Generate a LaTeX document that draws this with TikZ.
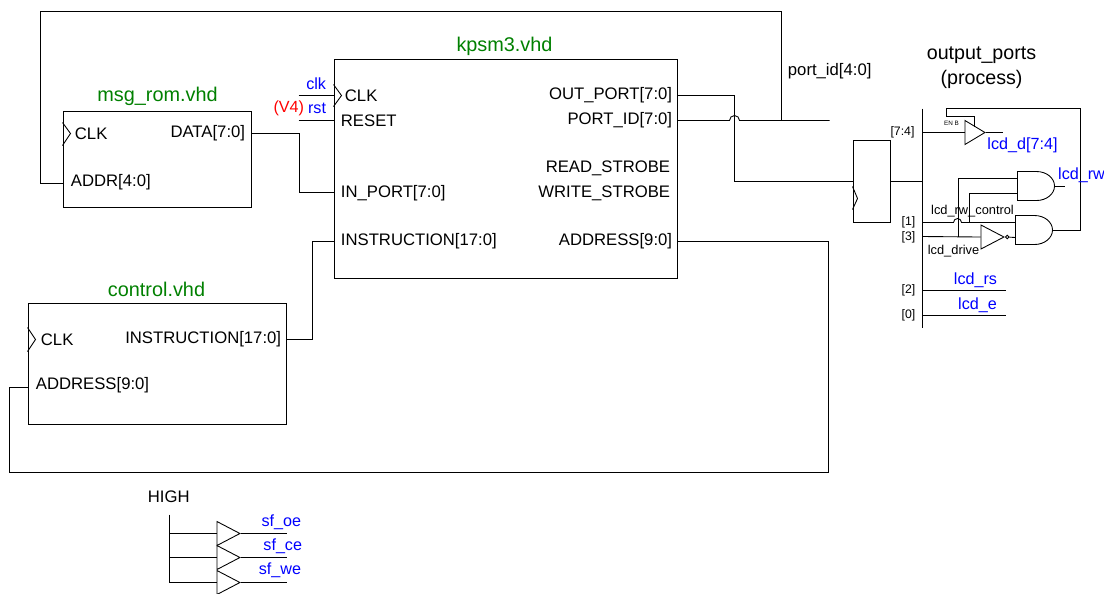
\documentclass[tikz,border=0pt]{standalone}
\usepackage{fontspec}
\setmainfont{Liberation Sans}
\definecolor{TitleGreen}{HTML}{008000}
\definecolor{SigBlue}{HTML}{0000FF}
\usetikzlibrary{shapes.geometric, positioning}

\begin{document}
\begin{tikzpicture}[
  x=0.02cm, y=-0.02cm,
  line width=0.5pt,
  block/.style={rectangle, draw, anchor=north west, inner sep=0pt},
  title/.style={font=\fontsize{11.3}{13}\selectfont, text=TitleGreen, inner sep=0pt},
  pinl/.style={font=\fontsize{9.5}{11}\selectfont, anchor=west, inner sep=0pt},
  pinr/.style={font=\fontsize{9.5}{11}\selectfont, anchor=east, inner sep=0pt},
  sig/.style={font=\fontsize{9.2}{11}\selectfont, text=SigBlue, inner sep=0pt},
  tiny/.style={font=\fontsize{7}{8}\selectfont, inner sep=0pt},
  buf/.style={isosceles triangle, isosceles triangle stretches, draw, anchor=lower side,
              minimum width=0.48cm, minimum height=0.46cm, inner sep=0pt},
  andgate/.pic={
    \draw (0,0) -- (19,0) arc[x radius=18, y radius=14.5, start angle=-90, end angle=90] -- (0,29) -- cycle;
    \coordinate (-in1) at (0,7);
    \coordinate (-in2) at (0,22);
    \coordinate (-out) at (37,14.5);
  }
]
  \useasboundingbox (0,0) rectangle (1104,593);
  \begin{scope}[shift={(0.5,0.5)}]

  % blocks
  \node[block, minimum width=6.88cm, minimum height=4.4cm] (kpsm) at (333,58) {};
  \node[block, minimum width=3.78cm, minimum height=1.94cm] (rom) at (62,110) {};
  \node[block, minimum width=5.18cm, minimum height=2.44cm] (ctrl) at (27,302) {};
  \node[block, minimum width=0.74cm, minimum height=1.66cm] (reg) at (852,139) {};

  \node[title] (kpsmname) at (504,46) {kpsm3.vhd};
  \node[title] (romname) at (157,96) {msg\_rom.vhd};
  \node[title] (ctrlname) at (156,289) {control.vhd};

  % clock notches
  \draw (kpsm.west |- 0,84) -- (341,95) -- (kpsm.west |- 0,106);
  \draw (rom.west |- 0,122) -- (70,133) -- (rom.west |- 0,145);
  \draw (ctrl.west |- 0,327) -- (35,339) -- (ctrl.west |- 0,351);
  \draw (reg.west |- 0,186) -- (857,198) -- (reg.west |- 0,209);

  % pin labels
  \node[pinl] (kclk) at (344,95) {CLK};
  \node[pinl] (krst) at (340,120) {RESET};
  \node[pinl] (kin) at (340,193) {IN\_PORT[7:0]};
  \node[pinl] (kins) at (340,241) {INSTRUCTION[17:0]};
  \node[pinr] (kout) at (672,95) {OUT\_PORT[7:0]};
  \node[pinr] (kid) at (672,120) {PORT\_ID[7:0]};
  \node[pinr] (kread) at (670,168) {READ\_STROBE};
  \node[pinr] (kwrite) at (670,193) {WRITE\_STROBE};
  \node[pinr] (kaddr) at (672,241) {ADDRESS[9:0]};
  \node[pinl] (rclk) at (74,133) {CLK};
  \node[pinr] (rdata) at (245,133) {DATA[7:0]};
  \node[pinl] (raddr) at (70,182) {ADDR[4:0]};
  \node[pinl] (cclk) at (40,339) {CLK};
  \node[pinr] (cins) at (281,339) {INSTRUCTION[17:0]};
  \node[pinl] (caddr) at (35,385) {ADDRESS[9:0]};

  \node[sig, anchor=east] (clklabel) at (326,83) {clk};
  \node[sig, anchor=east] (rstlabel) at (326,108) {rst};
  \node[sig, anchor=east, text=red] (v4label) at (304,108) {(V4)};
  \node[pinl] (idlabel) at (787,71) {port\_id[4:0]};
  \node[align=center, font=\fontsize{11.2}{14.2}\selectfont, inner sep=0pt] (portsname) at (981,67) {output\_ports\\(process)};

  % pin coordinates
  \coordinate (clkend) at (298,95);
  \coordinate (rstend) at (298,120);
  \coordinate (idend) at (829,120);
  \coordinate (outend) at (677,95);
  \coordinate (idstart) at (677,120);
  \coordinate (taptop) at (781,11);
  \coordinate (tap) at (781,120);
  \coordinate (hopl) at (729,120);
  \coordinate (romdata) at (251,133);
  \coordinate (kpsmin) at (333,192);
  \coordinate (romaddr) at (62,183);
  \coordinate (kpsmins) at (333,241);
  \coordinate (ctrlins) at (286,339);
  \coordinate (kpsmaddr) at (677,241);
  \coordinate (ctrladdr) at (27,387);
  \coordinate (regin) at (852,181);

  % kpsm wiring
  \draw (clkend) -- (kpsm.west |- clkend);
  \draw (rstend) -- (kpsm.west |- rstend);
  \draw (romdata) -- (299,133) -- (299,192) -- (kpsmin);
  \draw (kpsmins) -- (312,241) -- (312,339) -- (ctrlins);
  \draw (kpsmaddr) -- (828,241) -- (828,472) -- (9,472) -- (9,387) -- (ctrladdr);
  \draw (idstart) -- (hopl) arc[start angle=180, end angle=360, radius=5] -- (idend);
  \draw (tap) -- (taptop) -- (40,11) -- (40,183) -- (romaddr);
  \draw (outend) -- (734,95) -- (734,181) -- (regin);

  % output ports
  \coordinate (bustop) at (922,108);
  \coordinate (busbot) at (922,327);
  \draw (bustop) -- (busbot);
  \draw (reg.east |- regin) -- (bustop |- regin);

  \node[buf, minimum height=0.4cm] (lcdbuf) at (964,132) {};
  \coordinate (buftap) at (974,126);
  \coordinate (bufend) at (1002,132);
  \draw (bustop |- bufend) -- (lcdbuf.lower side);
  \draw (lcdbuf.apex) -- (bufend);
  \node[inner sep=0pt, font=\fontsize{3.6}{4}\selectfont] (enb) at (951,123) {EN B};

  \pic (andrw) at (1017,171) {andgate};
  \pic (anddrive) at (1015,215) {andgate};
  \node[buf] (inv) at (980,236.5) {};
  \node[circle, draw, inner sep=0pt, minimum size=0.07cm, right=0pt of inv.apex] (invdot) {};

  \coordinate (in1) at (922,222);
  \coordinate (in3) at (922,236);
  \draw (in1) -- (953,222) arc[start angle=180, end angle=360, radius=4] -- (anddrive-in1);
  \draw (in3) -- (inv.lower side);
  \draw (invdot) -- (anddrive-in2);
  \draw (958,236) -- (958,178) -- (andrw-in1);
  \draw (969,222) -- (969,193) -- (andrw-in2);
  \draw (andrw-out) -- (1064,185.5);
  \draw (anddrive-out) -- (1080,229.5) -- (1080,108) -- (946,108) -- (946,116) -- (974,116) -- (buftap);

  \coordinate (rsend) at (1005,290);
  \coordinate (eend) at (1005,315);
  \draw (bustop |- rsend) -- (rsend);
  \draw (bustop |- eend) -- (eend);

  \node[tiny] (tag74) at (902,132) {[7:4]};
  \node[tiny] (tag1) at (908,222) {[1]};
  \node[tiny] (tag3) at (908,237) {[3]};
  \node[tiny] (tag2) at (908,290) {[2]};
  \node[tiny] (tag0) at (908,315) {[0]};
  \node[tiny, font=\fontsize{7.3}{8}\selectfont] (rwctl) at (972,211) {lcd\_rw\_control};
  \node[tiny, font=\fontsize{7.3}{8}\selectfont] (drive) at (953,251) {lcd\_drive};
  \node[sig] (lcdd) at (1022,145) {lcd\_d[7:4]};
  \node[sig] (lcdrw) at (1081,175) {lcd\_rw};
  \node[sig] (lcdrs) at (975,280) {lcd\_rs};
  \node[sig] (lcde) at (977,305) {lcd\_e};

  % flash enables
  \node[pinl] (high) at (147,496) {HIGH};
  \node[buf] (oebuf) at (216,533) {};
  \node[buf] (cebuf) at (216,557) {};
  \node[buf] (webuf) at (216,582) {};
  \coordinate (hightop) at (169,514);
  \draw (hightop) -- (hightop |- webuf.lower side) -- (webuf.lower side);
  \draw (hightop |- oebuf.lower side) -- (oebuf.lower side);
  \draw (hightop |- cebuf.lower side) -- (cebuf.lower side);
  \coordinate (oeend) at (286,533);
  \coordinate (ceend) at (286,557);
  \coordinate (weend) at (286,582);
  \draw (oebuf.apex) -- (oeend);
  \draw (cebuf.apex) -- (ceend);
  \draw (webuf.apex) -- (weend);
  \node[sig, anchor=east] (sfoe) at (301,522) {sf\_oe};
  \node[sig, anchor=east] (sfce) at (302,546) {sf\_ce};
  \node[sig, anchor=east] (sfwe) at (301,570) {sf\_we};
  \end{scope}
\end{tikzpicture}
\end{document}
